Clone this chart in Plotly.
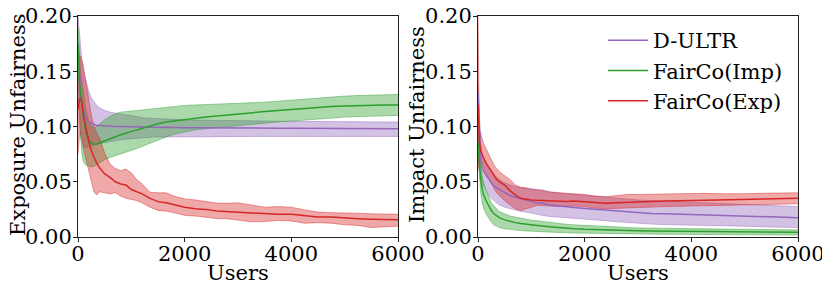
import plotly.graph_objects as go

# ---------------- data ----------------
users = [0, 25, 50, 75, 100, 150, 200, 250, 300, 350, 400, 500, 600, 700, 800, 900,
         1000, 1100, 1200, 1350, 1500, 1650, 1800, 2000, 2200, 2400, 2600, 2800, 3000,
         3250, 3500, 3750, 4000, 4250, 4500, 4750, 5000, 5250, 5500, 5750, 6000]

series_names = ["D-ULTR", "FairCo(Imp)", "FairCo(Exp)"]
series_colors = ["#9467bd", "#2ca02c", "#d62728"]

# Exposure unfairness (left panel)
exp_dultr_mean = [0.175, 0.145, 0.128, 0.12, 0.115, 0.108, 0.104, 0.103, 0.102, 0.101, 0.101, 0.1005, 0.1005, 0.1, 0.1, 0.1,
                  0.1, 0.0998, 0.0995, 0.0993, 0.099, 0.099, 0.099, 0.0988, 0.0987, 0.0986, 0.0985, 0.0985, 0.0985,
                  0.0985, 0.0985, 0.0985, 0.0985, 0.0984, 0.0983, 0.0982, 0.0981, 0.098, 0.098, 0.098, 0.098]
exp_dultr_upper = [0.2, 0.185, 0.168, 0.158, 0.15, 0.14, 0.132, 0.126, 0.122, 0.119, 0.117, 0.1145, 0.113, 0.112, 0.111, 0.1105,
                   0.11, 0.109, 0.108, 0.1075, 0.107, 0.1068, 0.1065, 0.106, 0.1058, 0.1055, 0.1055, 0.1052, 0.105,
                   0.105, 0.105, 0.1048, 0.1047, 0.1046, 0.1045, 0.1044, 0.1043, 0.1042, 0.1041, 0.104, 0.104]
exp_dultr_lower = [0.15, 0.105, 0.09, 0.085, 0.082, 0.081, 0.082, 0.083, 0.0835, 0.084, 0.0845, 0.0855, 0.0865, 0.087, 0.088, 0.0885,
                   0.089, 0.0895, 0.09, 0.0903, 0.0905, 0.0906, 0.0907, 0.0908, 0.0909, 0.091, 0.091, 0.091, 0.091,
                   0.091, 0.091, 0.091, 0.091, 0.091, 0.091, 0.091, 0.091, 0.091, 0.091, 0.091, 0.091]

exp_imp_mean = [0.175, 0.14, 0.13, 0.122, 0.11, 0.095, 0.088, 0.085, 0.084, 0.084, 0.085, 0.087, 0.089, 0.091, 0.0925, 0.094,
                0.0955, 0.097, 0.0985, 0.1005, 0.1025, 0.104, 0.105, 0.106, 0.1075, 0.1085, 0.1095, 0.1105, 0.1115,
                0.1125, 0.1135, 0.1145, 0.1155, 0.1165, 0.117, 0.118, 0.1185, 0.119, 0.1195, 0.1195, 0.1195]
exp_imp_upper = [0.19, 0.165, 0.15, 0.14, 0.13, 0.115, 0.105, 0.1, 0.099, 0.1, 0.102, 0.106, 0.109, 0.1115, 0.113, 0.1135,
                 0.114, 0.1145, 0.115, 0.116, 0.117, 0.1175, 0.118, 0.119, 0.1195, 0.12, 0.1205, 0.1205, 0.121,
                 0.1215, 0.122, 0.123, 0.124, 0.125, 0.126, 0.1265, 0.1275, 0.128, 0.1285, 0.129, 0.129]
exp_imp_lower = [0.16, 0.115, 0.09, 0.075, 0.068, 0.065, 0.064, 0.0635, 0.064, 0.0655, 0.067, 0.07, 0.072, 0.0735, 0.075, 0.0765,
                 0.078, 0.08, 0.082, 0.085, 0.088, 0.0905, 0.093, 0.095, 0.097, 0.098, 0.099, 0.1, 0.101,
                 0.102, 0.103, 0.104, 0.105, 0.106, 0.107, 0.108, 0.1085, 0.109, 0.1095, 0.1095, 0.11]

exp_exp_mean = [0.115, 0.125, 0.125, 0.122, 0.11, 0.097, 0.087, 0.078, 0.072, 0.067, 0.063, 0.057, 0.054, 0.05, 0.048, 0.047,
                0.043, 0.041, 0.039, 0.035, 0.032, 0.031, 0.029, 0.027, 0.0255, 0.025, 0.0235, 0.023, 0.0225,
                0.0215, 0.021, 0.0205, 0.0205, 0.019, 0.018, 0.018, 0.017, 0.0165, 0.016, 0.0155, 0.0155]
exp_exp_upper = [0.15, 0.165, 0.163, 0.16, 0.155, 0.14, 0.125, 0.11, 0.1, 0.094, 0.09, 0.076, 0.066, 0.062, 0.06, 0.0615,
                 0.058, 0.052, 0.048, 0.0405, 0.04, 0.04, 0.037, 0.0345, 0.0335, 0.032, 0.0307, 0.0305, 0.031,
                 0.029, 0.027, 0.0275, 0.027, 0.0245, 0.0226, 0.022, 0.022, 0.0215, 0.021, 0.0205, 0.0205]
exp_exp_lower = [0.075, 0.09, 0.095, 0.09, 0.08, 0.07, 0.062, 0.05, 0.041, 0.038, 0.041, 0.04, 0.039, 0.04, 0.037, 0.035,
                 0.034, 0.033, 0.031, 0.027, 0.024, 0.0235, 0.022, 0.0196, 0.019, 0.018, 0.0167, 0.0165, 0.0155,
                 0.0137, 0.014, 0.015, 0.0145, 0.0125, 0.013, 0.0125, 0.011, 0.0105, 0.0086, 0.0092, 0.0098]

# Impact unfairness (right panel)
imp_dultr_mean = [0.13, 0.09, 0.07, 0.063, 0.06, 0.056, 0.052, 0.049, 0.046, 0.0445, 0.043, 0.04, 0.0375, 0.036, 0.0345, 0.033,
                  0.032, 0.031, 0.0305, 0.029, 0.028, 0.0272, 0.0266, 0.0258, 0.025, 0.024, 0.0233, 0.0225, 0.0218,
                  0.0212, 0.021, 0.0207, 0.0204, 0.0202, 0.0198, 0.0195, 0.0192, 0.0188, 0.0183, 0.0178, 0.0175]
imp_dultr_upper = [0.14, 0.105, 0.085, 0.076, 0.072, 0.066, 0.062, 0.059, 0.056, 0.054, 0.052, 0.049, 0.047, 0.0455, 0.0448, 0.0444,
                   0.044, 0.0432, 0.0426, 0.041, 0.0398, 0.0392, 0.0386, 0.0378, 0.037, 0.036, 0.035, 0.034, 0.0335,
                   0.033, 0.0325, 0.032, 0.0315, 0.031, 0.0305, 0.03, 0.0295, 0.029, 0.0285, 0.028, 0.0275]
imp_dultr_lower = [0.11, 0.07, 0.056, 0.05, 0.047, 0.043, 0.038, 0.035, 0.033, 0.031, 0.029, 0.027, 0.0255, 0.024, 0.0232, 0.0226,
                   0.0215, 0.0205, 0.0196, 0.0185, 0.018, 0.0176, 0.0172, 0.0165, 0.0158, 0.0148, 0.0138, 0.013, 0.0122,
                   0.0117, 0.0112, 0.0108, 0.0106, 0.0104, 0.0102, 0.01, 0.0098, 0.0096, 0.0094, 0.0092, 0.0085]

imp_imp_mean = [0.085, 0.065, 0.052, 0.045, 0.039, 0.033, 0.028, 0.024, 0.021, 0.019, 0.0175, 0.0155, 0.014, 0.013, 0.0122, 0.0115,
                0.011, 0.0105, 0.01, 0.0092, 0.0085, 0.008, 0.0075, 0.007, 0.0066, 0.0063, 0.006, 0.0058, 0.0056,
                0.0055, 0.0054, 0.0052, 0.005, 0.0049, 0.0048, 0.0047, 0.0046, 0.0045, 0.0044, 0.0043, 0.0042]
imp_imp_upper = [0.095, 0.078, 0.065, 0.056, 0.05, 0.042, 0.036, 0.031, 0.028, 0.025, 0.023, 0.021, 0.019, 0.018, 0.017, 0.016,
                 0.0152, 0.0148, 0.0142, 0.013, 0.012, 0.0115, 0.011, 0.0104, 0.0098, 0.0094, 0.009, 0.0086, 0.0082,
                 0.008, 0.0078, 0.0076, 0.0074, 0.0072, 0.007, 0.0069, 0.0068, 0.0067, 0.0066, 0.0065, 0.0065]
imp_imp_lower = [0.075, 0.052, 0.04, 0.032, 0.027, 0.021, 0.017, 0.0135, 0.011, 0.0095, 0.0085, 0.0075, 0.0068, 0.0062, 0.0058, 0.0055,
                 0.0052, 0.005, 0.0048, 0.0044, 0.004, 0.0038, 0.0036, 0.0034, 0.0032, 0.003, 0.0029, 0.0028, 0.0027,
                 0.0026, 0.0025, 0.0024, 0.0023, 0.0022, 0.0021, 0.002, 0.002, 0.0019, 0.0019, 0.0018, 0.0018]

imp_exp_mean = [0.12, 0.087, 0.078, 0.074, 0.072, 0.067, 0.063, 0.059, 0.055, 0.052, 0.05, 0.047, 0.042, 0.038, 0.035, 0.034,
                0.0335, 0.0332, 0.033, 0.0325, 0.032, 0.0322, 0.0325, 0.032, 0.031, 0.0305, 0.031, 0.0315, 0.032,
                0.0322, 0.0325, 0.0325, 0.033, 0.0333, 0.0335, 0.0336, 0.034, 0.0342, 0.0345, 0.0345, 0.035]
imp_exp_upper = [0.2, 0.097, 0.094, 0.09, 0.085, 0.08, 0.075, 0.07, 0.065, 0.062, 0.059, 0.0555, 0.052, 0.047, 0.045, 0.0445,
                 0.043, 0.0425, 0.042, 0.0405, 0.04, 0.0395, 0.039, 0.0385, 0.037, 0.0365, 0.0375, 0.0385, 0.0385,
                 0.0388, 0.039, 0.0395, 0.0398, 0.0395, 0.0392, 0.039, 0.0392, 0.0395, 0.0396, 0.0398, 0.04]
imp_exp_lower = [0.06, 0.077, 0.072, 0.067, 0.064, 0.058, 0.053, 0.048, 0.044, 0.04, 0.0375, 0.033, 0.029, 0.0255, 0.024, 0.0256,
                 0.027, 0.0285, 0.0286, 0.028, 0.0275, 0.0278, 0.028, 0.0275, 0.0262, 0.0256, 0.026, 0.0265, 0.027,
                 0.0272, 0.0275, 0.0278, 0.028, 0.0283, 0.0285, 0.0288, 0.029, 0.0292, 0.0295, 0.0298, 0.03]

y_ticks = [0.0, 0.05, 0.10, 0.15, 0.20]
y_ticktext = ["0.00", "0.05", "0.10", "0.15", "0.20"]
x_ticks = [0, 2000, 4000, 6000]
x_ticktext = ["0", "2000", "4000", "6000"]
x_title = "Users"
y_titles = ["Exposure Unfairness", "Impact Unfairness"]

# ---------------- figure ----------------
FONT = "DejaVu Serif"
FS = 21


def rgba(hex_color, a):
    h = hex_color.lstrip("#")
    r, g, b = int(h[0:2], 16), int(h[2:4], 16), int(h[4:6], 16)
    return f"rgba({r},{g},{b},{a})"


fig = go.Figure()

panels = [
    ("x", "y", [(exp_dultr_lower, exp_dultr_upper, exp_dultr_mean),
                (exp_imp_lower, exp_imp_upper, exp_imp_mean),
                (exp_exp_lower, exp_exp_upper, exp_exp_mean)], False),
    ("x2", "y2", [(imp_dultr_lower, imp_dultr_upper, imp_dultr_mean),
                  (imp_imp_lower, imp_imp_upper, imp_imp_mean),
                  (imp_exp_lower, imp_exp_upper, imp_exp_mean)], True),
]

# bands first (below all lines, like matplotlib)
for xa, ya, data, _ in panels:
    for (lo, hi, _m), color in zip(data, series_colors):
        fig.add_trace(go.Scatter(x=users, y=lo, mode="lines", xaxis=xa, yaxis=ya,
                                 line=dict(color=rgba(color, 0.45), width=1),
                                 showlegend=False, hoverinfo="skip"))
        fig.add_trace(go.Scatter(x=users, y=hi, mode="lines", xaxis=xa, yaxis=ya,
                                 line=dict(color=rgba(color, 0.45), width=1),
                                 fill="tonexty", fillcolor=rgba(color, 0.4),
                                 showlegend=False, hoverinfo="skip"))

# mean lines
for xa, ya, data, show in panels:
    for (lo, hi, m), color, name in zip(data, series_colors, series_names):
        fig.add_trace(go.Scatter(x=users, y=m, mode="lines", xaxis=xa, yaxis=ya,
                                 line=dict(color=color, width=1.5),
                                 name=name, showlegend=show))

axis_common = dict(
    showline=True, linecolor="#222", linewidth=1, mirror=True,
    ticks="outside", ticklen=4, tickwidth=1, tickcolor="#222",
    showgrid=False, zeroline=False, automargin=False,
    ticklabeloverflow="allow",
    tickfont=dict(family=FONT, size=FS, color="black"),
)

# page body has an 8px margin, so figure coords are screen coords minus 8
L, R, T, B = 70, 40, 8, 62
W, H = 830, 291
pw = W - L - R
ph = H - T - B

xcfg = dict(range=[0, 6000], tickvals=x_ticks, ticktext=x_ticktext, ticklabelstandoff=-6, **axis_common)
ycfg = dict(domain=[0, 1], range=[0, 0.2], tickvals=y_ticks, ticktext=y_ticktext, ticklabelstandoff=-3, **axis_common)

fig.update_layout(
    width=W, height=H, autosize=False,
    margin=dict(l=L, r=R, t=T, b=B, pad=0, autoexpand=False),
    paper_bgcolor="white", plot_bgcolor="white",
    font=dict(family=FONT, size=FS, color="black"),
    xaxis=dict(domain=[0, 320 / pw], anchor="y", **xcfg),
    yaxis=dict(anchor="x", **ycfg),
    xaxis2=dict(domain=[400 / pw, 1], anchor="y2", **xcfg),
    yaxis2=dict(anchor="x2", **ycfg),
    legend=dict(x=(595 - L) / pw, y=1 - (12 - T) / ph, xanchor="left", yanchor="top", traceorder="normal",
                bgcolor="rgba(255,255,255,0)", borderwidth=0,
                font=dict(family=FONT, size=FS, color="black"),
                itemwidth=40),
    showlegend=True,
)

# axis titles placed as annotations (fig px -> paper fractions)
def px_x(xp):
    return (xp - L) / pw


def px_y(yp):
    return (H - B - yp) / ph


title_font = dict(family=FONT, size=FS, color="black")
for cx in (230, 630):
    fig.add_annotation(text=x_title, x=px_x(cx), y=px_y(265), xref="paper", yref="paper",
                       xanchor="center", yanchor="middle", showarrow=False, font=title_font)
for cx, t in zip((10, 409), y_titles):
    fig.add_annotation(text=t, x=px_x(cx), y=px_y(117), xref="paper", yref="paper", textangle=-90,
                       xanchor="center", yanchor="middle", showarrow=False, font=title_font)

fig.write_html("out.html")
